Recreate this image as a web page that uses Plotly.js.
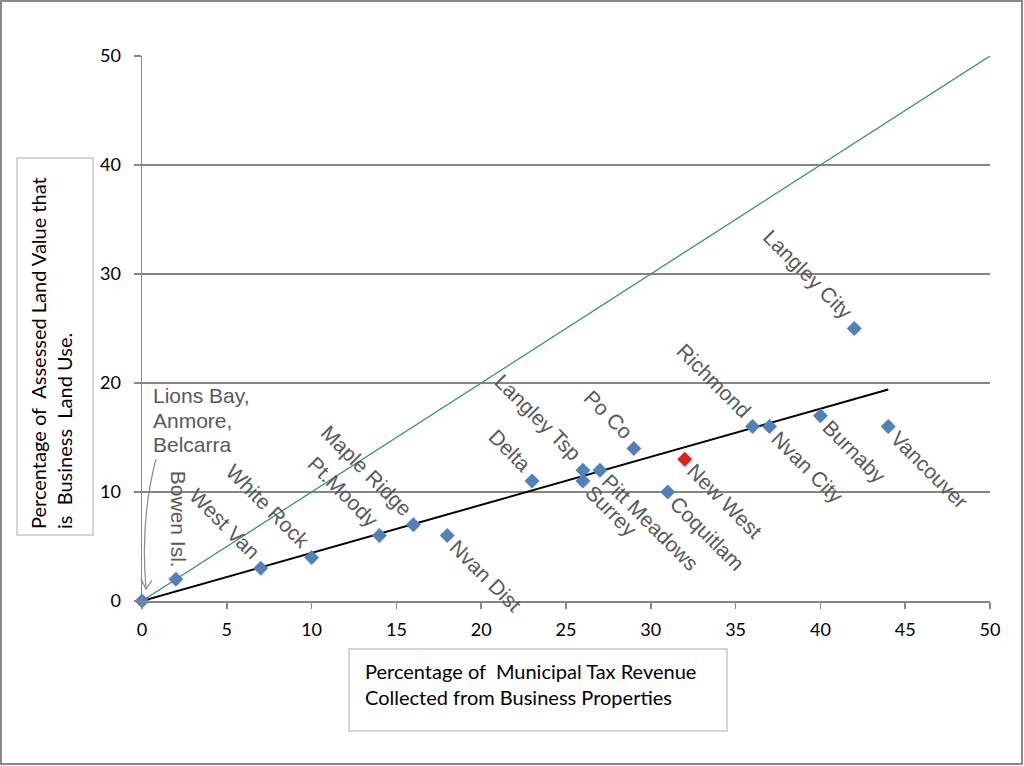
<!DOCTYPE html>
<html>
<head>
<meta charset="utf-8">
<script src="https://cdn.plot.ly/plotly-3.0.1.min.js"></script>
<style>
  html, body { margin: 0; padding: 0; background: #ffffff; }
  #chart { width: 1024px; height: 766px; }
</style>
</head>
<body>
<div id="chart"></div>
<script>
// ---- data ----
const munis = ['Lions Bay,<br>Anmore,<br>Belcarra', 'Bowen Isl.', 'West Van', 'White Rock', 'Pt.Moody',
  'Maple Ridge', 'Nvan Dist', 'Delta', 'Langley Tsp', 'Surrey', 'Pitt Meadows', 'Po Co',
  'Coquitlam', 'Richmond', 'Nvan City', 'Burnaby', 'Vancouver', 'Langley City'];
const taxShare  = [0, 2, 7, 10, 14, 16, 18, 23, 26, 26, 27, 29, 31, 36, 37, 40, 44, 42];
const landShare = [0, 2, 3, 4, 6, 7, 6, 11, 12, 11, 12, 14, 10, 16, 16, 17, 16, 25];
const labelSide = ['note', 'up', 'ul', 'ul', 'ul', 'ul', 'lr', 'ul', 'ul', 'lr', 'lr', 'ul',
  'lr', 'ul', 'lr', 'lr', 'lr', 'ul'];

const newWestName = ['New West'];
const newWestX = [32];
const newWestY = [13];

const trendX = [0, 44];
const trendY = [0, 19.4];
const parityX = [0, 50];
const parityY = [0, 50];

const xTicks = [0, 5, 10, 15, 20, 25, 30, 35, 40, 45, 50];
const yTicks = [0, 10, 20, 30, 40, 50];

const xTitleText = 'Percentage of\u00a0 Municipal Tax Revenue<br>Collected from Business Properties';
const yTitleText = 'Percentage of\u00a0 Assessed Land Value that<br>is\u00a0 Business\u00a0 Land Use.';

// ---- geometry helpers (page pixels -> paper fractions) ----
const M = { l: 142, r: 34, t: 56, b: 165 };
const W = 1024, H = 766;
const PW = W - M.l - M.r, PH = H - M.t - M.b;
const px = p => (p - M.l) / PW;
const py = p => (H - M.b - p) / PH;

const GRID = '#868686';
const LABEL = '#595959';
const labelFont = { family: 'Liberation Sans, Arial, sans-serif', size: 21, color: LABEL };
const tickFont = { family: 'Lato, Carlito, Calibri, sans-serif', size: 18, color: '#000000' };
const titleFont = { family: 'Lato, Carlito, Calibri, sans-serif', size: 20, color: '#000000' };

const traces = [
  { x: parityX, y: parityY, mode: 'lines', line: { color: '#2f9a62', width: 1.3 },
    hoverinfo: 'skip', showlegend: false, cliponaxis: false },
  { x: trendX, y: trendY, mode: 'lines', line: { color: '#000000', width: 2 },
    hoverinfo: 'skip', showlegend: false, cliponaxis: false },
  { x: taxShare, y: landShare, text: munis, mode: 'markers', type: 'scatter',
    marker: { symbol: 'diamond', size: 11.5, color: '#4F81BD' },
    showlegend: false, cliponaxis: false },
  { x: newWestX, y: newWestY, text: newWestName, mode: 'markers', type: 'scatter',
    marker: { symbol: 'diamond', size: 11.5, color: '#E0201B' },
    showlegend: false, cliponaxis: false }
];

// ---- point labels ----
const annotations = [];
function addLabel(name, x, y, side) {
  if (side === 'ul') {
    annotations.push({ x: x, y: y, xref: 'x', yref: 'y', text: name, showarrow: false,
      textangle: 45, xanchor: 'right', yanchor: 'bottom', xshift: 6, yshift: 2, font: labelFont });
  } else if (side === 'lr') {
    annotations.push({ x: x, y: y, xref: 'x', yref: 'y', text: name, showarrow: false,
      textangle: 45, xanchor: 'left', yanchor: 'top', xshift: -5, yshift: 3, font: labelFont });
  } else if (side === 'up') {
    annotations.push({ x: x, y: y, xref: 'x', yref: 'y', text: name, showarrow: false,
      textangle: 90, xanchor: 'center', yanchor: 'bottom', xshift: 2, yshift: 9, font: labelFont });
  } else if (side === 'note') {
    // multi-line note drawn line by line for tighter line spacing
    name.split('<br>').forEach((line, k) => {
      annotations.push({ x: px(151), y: py(403 + 24.5 * k), xref: 'paper', yref: 'paper', text: line,
        showarrow: false, align: 'left', xanchor: 'left', yanchor: 'bottom', yshift: -6, font: labelFont });
    });
  }
}
for (let i = 0; i < munis.length; i++) addLabel(munis[i], taxShare[i], landShare[i], labelSide[i]);
for (let i = 0; i < newWestName.length; i++) addLabel(newWestName[i], newWestX[i], newWestY[i], 'lr');

// axis titles (boxed, left-aligned text)
annotations.push({ x: px(363), y: py(657), xref: 'paper', yref: 'paper', text: xTitleText,
  showarrow: false, align: 'left', xanchor: 'left', yanchor: 'top', font: titleFont });
annotations.push({ x: px(51), y: py(531), xref: 'paper', yref: 'paper', text: yTitleText,
  showarrow: false, align: 'left', textangle: -90, xanchor: 'center', yanchor: 'bottom', font: titleFont });

// ---- shapes: frames and the curved pointer ----
const shapes = [
  { type: 'rect', xref: 'paper', yref: 'paper', x0: px(1), y0: py(1), x1: px(1022), y1: py(764),
    line: { color: '#8a8a8a', width: 2 }, layer: 'above' },
  { type: 'rect', xref: 'paper', yref: 'paper', x0: px(349), y0: py(649), x1: px(727), y1: py(731),
    line: { color: '#c8c8c8', width: 1.5 } },
  { type: 'rect', xref: 'paper', yref: 'paper', x0: px(17), y0: py(158), x1: px(93), y1: py(535),
    line: { color: '#c8c8c8', width: 1.5 } },
  { type: 'path', xref: 'paper', yref: 'paper',
    path: 'M ' + px(156) + ' ' + py(459) + ' Q ' + px(140) + ' ' + py(520) + ' ' + px(146) + ' ' + py(589),
    line: { color: '#8a8a8a', width: 1.2 } },
  { type: 'path', xref: 'paper', yref: 'paper',
    path: 'M ' + px(141) + ' ' + py(579) + ' L ' + px(146) + ' ' + py(589) + ' L ' + px(152) + ' ' + py(580),
    line: { color: '#8a8a8a', width: 1.2 } }
];

const layout = {
  width: W, height: H,
  margin: { l: M.l, r: M.r, t: M.t, b: M.b, pad: 0 },
  paper_bgcolor: '#ffffff', plot_bgcolor: '#ffffff',
  showlegend: false,
  xaxis: {
    range: [0, 50], tickvals: xTicks, ticktext: xTicks.map(String),
    showgrid: false, zeroline: false, showline: true, linecolor: GRID, linewidth: 1.5,
    ticks: 'outside', ticklen: 6, tickwidth: 1.5, tickcolor: GRID,
    tickfont: tickFont, ticklabelstandoff: 6, fixedrange: true
  },
  yaxis: {
    range: [0, 50], tickvals: yTicks, ticktext: yTicks.map(String),
    showgrid: true, gridcolor: GRID, gridwidth: 1.6, zeroline: false,
    showline: true, linecolor: GRID, linewidth: 1.5,
    ticks: 'outside', ticklen: 7, tickwidth: 1.5, tickcolor: GRID,
    tickfont: tickFont, ticklabelstandoff: 9, fixedrange: true
  },
  annotations: annotations,
  shapes: shapes
};

Plotly.newPlot('chart', traces, layout, { displayModeBar: false, staticPlot: true });
</script>
</body>
</html>
